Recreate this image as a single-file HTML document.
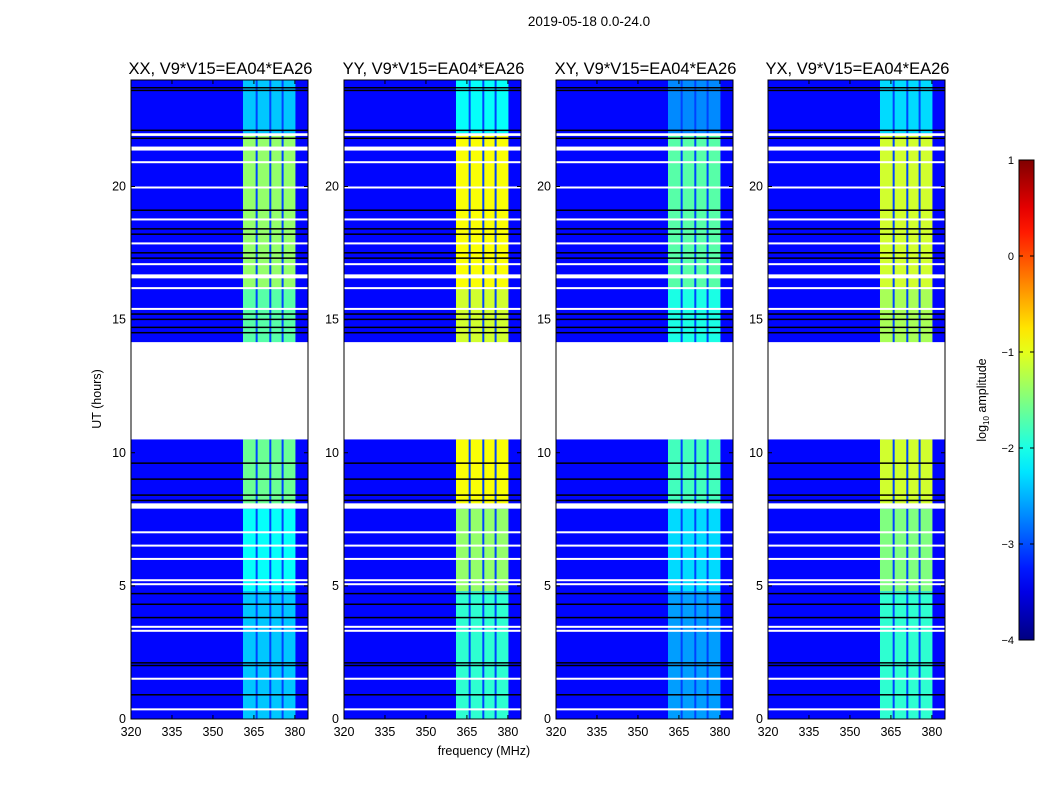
<!DOCTYPE html>
<html><head><meta charset="utf-8"><style>
body{margin:0;background:#fff;font-family:"Liberation Sans",sans-serif;}
#wrap{position:relative;width:1050px;height:800px;overflow:hidden;}
</style></head><body>
<div id="wrap">
<svg id="svg" width="1050" height="800" xmlns="http://www.w3.org/2000/svg"></svg>
</div>
<script>
const panelTitles=["XX, V9*V15=EA04*EA26","YY, V9*V15=EA04*EA26","XY, V9*V15=EA04*EA26","YX, V9*V15=EA04*EA26"];
const panelX=[131,344,556,768];
const xTicks=[320,335,350,365,380];
const yTicks=[0,5,10,15,20];
const cbTicks=[1,0,-1,-2,-3,-4];
const segStart=[0,2.1,4.8,8.0,14.1,16.2,22.0];
const segEnd=[2.1,4.8,7.9,10.5,16.2,22.0,24.0];
const bandXX=[-2.4,-2.4,-2.1,-1.6,-1.7,-1.4,-2.4];
const bandYY=[-1.9,-1.9,-1.4,-0.9,-1.1,-0.9,-2.1];
const bandXY=[-2.6,-2.6,-2.3,-1.8,-2.0,-1.7,-2.7];
const bandYX=[-1.9,-1.9,-1.5,-1.1,-1.3,-1.1,-2.3];
const bandLo=361, bandHi=380.2;
const bandGaps=[366,371,375.5];
const bgLevel=-3.35;
const flagStart=[10.5,21.9,21.35,19.93,16.55,7.9,20.9,18.76,17.86,17.08,16.18,15.4,14.1,5.05,5.2,6.0,6.5,7.0,3.3,3.45,1.5,0.35];
const flagEnd  =[14.15,22.0,21.5,20.0,16.7,8.1,20.95,18.8,17.9,17.12,16.22,15.44,14.15,5.1,5.25,6.05,6.55,7.05,3.35,3.5,1.55,0.4];
const darkLines=[23.7,23.6,22.1,21.8,19.1,18.4,18.2,17.5,17.3,15.2,15.0,14.7,14.5,9.6,9.0,8.4,8.2,4.7,4.3,3.8,2.1,2.0,0.9];
const bands=[bandXX,bandYY,bandXY,bandYX];
const NS="http://www.w3.org/2000/svg";
const svg=document.getElementById('svg');
const W=177, topY=80, botY=719, fMin=320, fMax=384.8;
function jet(v){let t=Math.max(0,Math.min(1,(v+4)/5));
 const r=Math.min(1,Math.max(0,1.5-Math.abs(4*t-3))),g=Math.min(1,Math.max(0,1.5-Math.abs(4*t-2))),b=Math.min(1,Math.max(0,1.5-Math.abs(4*t-1)));
 return `rgb(${Math.round(r*255)},${Math.round(g*255)},${Math.round(b*255)})`;}
function el(tag,attrs,txt){const e=document.createElementNS(NS,tag);for(const k in attrs)e.setAttribute(k,attrs[k]);if(txt!==undefined)e.textContent=txt;svg.appendChild(e);return e;}
const yS=h=>botY-(h/24)*(botY-topY);
function xS(p,f){return panelX[p]+(f-fMin)/(fMax-fMin)*W;}
function txt(x,y,s,size,anchor,name){const t=el('text',{x:x,y:y,'font-size':size,'text-anchor':anchor,fill:'#000','font-family':'Liberation Sans, sans-serif'},s);
 
 return t;}
txt(589,26,"2019-05-18 0.0-24.0",13.5,'middle','figure-title');
for(let p=0;p<4;p++){
 const bg=el('rect',{x:panelX[p],y:topY,width:W,height:botY-topY,fill:jet(bgLevel)});
 
 
 for(let s=0;s<segStart.length;s++){
  const y1=yS(segEnd[s]),y2=yS(segStart[s]);
  const r=el('rect',{x:xS(p,bandLo),y:y1,width:xS(p,bandHi)-xS(p,bandLo),height:y2-y1,fill:jet(bands[p][s])});
  
  
  for(const g of bandGaps){const gr=el('rect',{x:xS(p,g)-1,y:y1,width:2,height:y2-y1,fill:jet(bgLevel+0.3)});
   
   }
 }
 for(const d of darkLines){const l=el('rect',{x:panelX[p],y:yS(d)-1,width:W,height:1.5,fill:'#000'});
  
  }
 for(let i=0;i<flagStart.length;i++){const y1=yS(flagEnd[i]),y2=yS(flagStart[i]);
  const f=el('rect',{x:panelX[p],y:y1,width:W,height:Math.max(2,y2-y1),fill:'#fff'});
  
  }
 const fr=el('rect',{x:panelX[p],y:topY,width:W,height:botY-topY,fill:'none',stroke:'#000','stroke-width':1});
 
 
 txt(panelX[p]+W/2+1,74,panelTitles[p],16.5,'middle','panel-title');
 for(const t of xTicks){const x=xS(p,t);
  el('line',{x1:x,x2:x,y1:botY,y2:botY-4,stroke:'#000'});el('line',{x1:x,x2:x,y1:topY,y2:topY+4,stroke:'#000'});
  txt(x,736,String(t),12.5,'middle','x-tick-label');}
 for(const t of yTicks){const y=yS(t);
  el('line',{x1:panelX[p],x2:panelX[p]+4,y1:y,y2:y,stroke:'#000'});el('line',{x1:panelX[p]+W,x2:panelX[p]+W-4,y1:y,y2:y,stroke:'#000'});
  txt(panelX[p]-5,y+4,String(t),12.5,'end','y-tick-label');}
}
txt(484,755,"frequency (MHz)",12.5,'middle','x-axis-title');
const yt=txt(101,399,"UT (hours)",12.5,'middle','y-axis-title');yt.setAttribute('transform','rotate(-90 101 399)');
const cbX=1019,cbW=15,cbT=160,cbB=640;
const defs=el('defs',{});const lg=document.createElementNS(NS,'linearGradient');lg.setAttribute('id','jetg');lg.setAttribute('x1','0');lg.setAttribute('y1','1');lg.setAttribute('x2','0');lg.setAttribute('y2','0');defs.appendChild(lg);
for(let i=0;i<=20;i++){const st=document.createElementNS(NS,'stop');st.setAttribute('offset',i/20);st.setAttribute('stop-color',jet(-4+5*i/20));lg.appendChild(st);}
const cb=el('rect',{x:cbX,y:cbT,width:cbW,height:cbB-cbT,fill:'url(#jetg)',stroke:'#000'});


for(const t of cbTicks){const y=cbB-(t+4)/5*(cbB-cbT);
 el('line',{x1:cbX,x2:cbX+4,y1:y,y2:y,stroke:'#000'});el('line',{x1:cbX+cbW,x2:cbX+cbW-4,y1:y,y2:y,stroke:'#000'});
 txt(cbX-5,y+4,(t<0?"\u2212"+(-t):String(t)),11,'end','colorbar-tick-label');}
const ct=el('text',{x:986,y:400,'font-size':12.5,'text-anchor':'middle',transform:'rotate(-90 986 400)','font-family':'Liberation Sans, sans-serif'});


ct.innerHTML='log<tspan font-size="8" dy="3">10</tspan><tspan dy="-3"> amplitude</tspan>';
</script>
</body></html>
